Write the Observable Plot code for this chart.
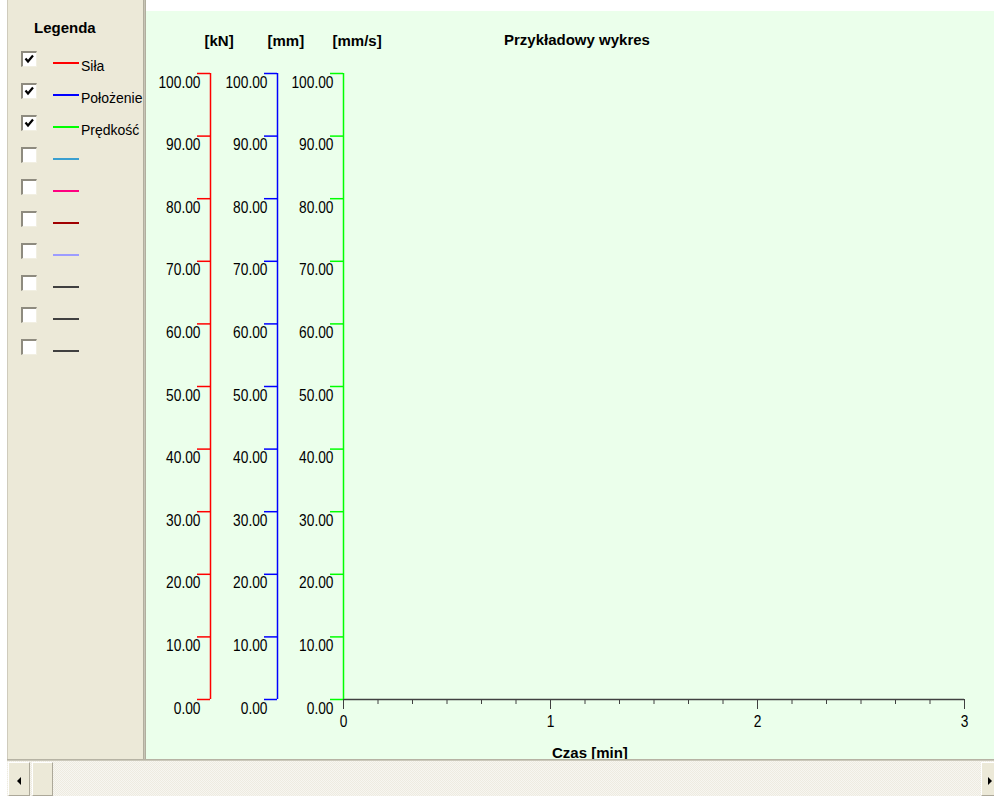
<!DOCTYPE html>
<html>
<head>
<meta charset="utf-8">
<script src="https://cdn.jsdelivr.net/npm/d3@7"></script>
<script src="https://cdn.jsdelivr.net/npm/@observablehq/plot@0.6"></script>
<style>
html, body { margin: 0; padding: 0; background: #ffffff; }
body { width: 994px; height: 796px; overflow: hidden; position: relative; font-family: "Liberation Sans", Arial, sans-serif; }
#panel { position: absolute; left: 7px; top: 0; width: 136px; height: 759px; background: #ECE9D8; border-left: 1px solid #CFCBBC; box-sizing: border-box; }
#divider { position: absolute; left: 143px; top: 0; width: 3px; height: 760px; background: linear-gradient(to right, #A5A292, #C8C5B6, #A5A292); }
#chart { position: absolute; left: 146px; top: 11px; width: 848px; height: 749px; overflow: hidden; background: #EBFFEB; }
#hline { position: absolute; left: 7px; top: 759px; width: 987px; height: 2px; background: linear-gradient(#ACA899, #D6D3C6); }
#scroll { position: absolute; left: 7px; top: 761px; width: 987px; height: 35px;
  background-color: #F4F2EA;
  background-image: repeating-conic-gradient(#F7F6F1 0% 25%, #EEEBE0 0% 50%);
  background-size: 2px 2px; }
.btn { position: absolute; top: 1px; height: 34px; background: #ECE9D8; box-sizing: border-box;
  border-top: 1px solid #FFFFFF; border-left: 1px solid #FFFFFF; border-right: 1px solid #ACA899; border-bottom: 1px solid #ACA899; }
.arrowL { position: absolute; width: 0; height: 0; border-top: 4px solid transparent; border-bottom: 4px solid transparent; border-right: 4px solid #000; }
.arrowR { position: absolute; width: 0; height: 0; border-top: 4px solid transparent; border-bottom: 4px solid transparent; border-left: 4px solid #000; }
.bold { position: absolute; font-weight: bold; font-size: 15px; line-height: 15px; color: #000; white-space: nowrap; }
.legrow { position: absolute; left: 0; width: 136px; height: 20px; }
.cb { position: absolute; left: 13px; width: 16px; height: 16px; box-sizing: border-box; background: #FFFFFF;
  border-top: 2px solid #8E8B7F; border-left: 2px solid #8E8B7F; border-right: 1px solid #F1EFE2; border-bottom: 1px solid #F1EFE2; }
.cb svg { position: absolute; left: 0; top: 0; }
.sw { position: absolute; left: 45px; width: 26px; height: 2px; }
.lt { position: absolute; left: 73px; font-size: 14px; line-height: 14px; color: #000; white-space: nowrap; }
</style>
</head>
<body>
<div id="panel"></div>
<div id="divider"></div>
<div id="chart"></div>
<div id="hline"></div>
<div id="scroll"></div>
<script>
// ---- data ----
const legendTitle = "Legenda";
const legendNames = ["Siła", "Położenie", "Prędkość", "", "", "", "", "", "", ""];
const legendColors = ["#FF0000", "#0000FF", "#00FF00", "#3A9FD0", "#FF0080", "#A00000", "#9C9CFF", "#404040", "#404040", "#404040"];
const legendChecked = [true, true, true, false, false, false, false, false, false, false];

const chartTitle = "Przykładowy wykres";
const yUnits = ["[kN]", "[mm]", "[mm/s]"];
const yColors = ["#FF0000", "#0000FF", "#00FF00"];
const yDomain = [0, 100];
const yTicks = [0, 10, 20, 30, 40, 50, 60, 70, 80, 90, 100];
const yTickLabels = ["0.00", "10.00", "20.00", "30.00", "40.00", "50.00", "60.00", "70.00", "80.00", "90.00", "100.00"];

const xLabel = "Czas [min]";
const xDomain = [0, 3];
const xTicks = [0, 1, 2, 3];
const xTickLabels = ["0", "1", "2", "3"];
const xMinorPerUnit = 6; // minor ticks every 10 s

// ---- layout ----
const W = 848, H = 749;
const axisDx = [-133, -66, 0];
const unitCenters = [219, 286, 357];   // page x
const tickFont = { fontFamily: "'Liberation Sans', Arial, sans-serif", fontSize: 16 };

const xMinor = d3.range(xDomain[0] * xMinorPerUnit, xDomain[1] * xMinorPerUnit + 1).map(i => i / xMinorPerUnit);

const marks = [
  Plot.ruleY([yDomain[0]], { stroke: "#404040", strokeWidth: 1.6 }),
  Plot.axisX(xMinor, { anchor: "bottom", tickSize: 5, stroke: "#404040", strokeWidth: 1, fill: "none", label: null }),
  Plot.axisX(xTicks, { anchor: "bottom", tickSize: 10, tickPadding: 6, stroke: "#404040", strokeWidth: 1, fill: "#000",
    tickFormat: d => xTickLabels[xTicks.indexOf(d)], label: null, ...tickFont })
];
yColors.forEach((c, i) => {
  marks.push(Plot.ruleX([xDomain[0]], { y1: yDomain[0], y2: yDomain[1], dx: axisDx[i], stroke: c, strokeWidth: 1.5 }));
  marks.push(Plot.axisY(yTicks, { anchor: "left", tickSize: 13, dx: axisDx[i], stroke: c, strokeWidth: 1.5, fill: "none", label: null }));
  marks.push(Plot.axisY(yTicks, { anchor: "left", tickSize: 0, tickPadding: 10, dx: axisDx[i], dy: 9, fill: "#000",
    tickFormat: d => yTickLabels[yTicks.indexOf(d)], label: null, ...tickFont }));
});

const plot = Plot.plot({
  width: W, height: H,
  marginLeft: 197, marginRight: 30, marginTop: 62, marginBottom: 61,
  x: { domain: xDomain },
  y: { domain: yDomain },
  style: { background: "#EBFFEB", fontFamily: "'Liberation Sans', Arial, sans-serif", overflow: "visible" },
  marks
});
// narrow the tick-label glyphs (the original uses a condensed bitmap font)
d3.select(plot).selectAll('g[aria-label="y-axis tick label"] text, g[aria-label="x-axis tick label"] text').each(function () {
  const t = this.getAttribute("transform") || "";
  this.setAttribute("transform", t + " scale(0.86,1)");
});
const chart = document.getElementById("chart");
chart.appendChild(plot);

function addText(parent, cls, txt, css) {
  const d = document.createElement("div");
  d.className = cls; d.textContent = txt;
  Object.assign(d.style, css);
  parent.appendChild(d);
  return d;
}
// titles (page coords -> chart coords)
const tt = addText(chart, "bold", chartTitle, { top: (32 - 11) + "px", left: "0px" });
tt.style.left = (577 - 146 - tt.offsetWidth / 2) + "px";
yUnits.forEach((u, i) => {
  const d = addText(chart, "bold", u, { top: (33 - 11) + "px", left: "0px" });
  d.style.left = (unitCenters[i] - 146 - d.offsetWidth / 2) + "px";
});
const xl = addText(chart, "bold", xLabel, { top: (745 - 11) + "px", left: "0px" });
xl.style.left = (590 - 146 - xl.offsetWidth / 2) + "px";

// legend panel
const panel = document.getElementById("panel");
addText(panel, "bold", legendTitle, { top: "20px", left: "26px" });
legendNames.forEach((name, i) => {
  const ly = 63 + 32 * i;
  const row = document.createElement("div");
  row.className = "legrow";
  row.style.top = (ly - 12) + "px";
  const cb = document.createElement("div");
  cb.className = "cb"; cb.style.top = "0px";
  if (legendChecked[i]) {
    cb.innerHTML = '<svg width="13" height="13"><polyline points="2.5,5.5 5,8.5 10,2.5" fill="none" stroke="#000" stroke-width="2.2"/></svg>';
  }
  row.appendChild(cb);
  const sw = document.createElement("div");
  sw.className = "sw";
  sw.style.top = "11px";
  sw.style.background = legendColors[i];
  row.appendChild(sw);
  if (name) addText(row, "lt", name, { top: "8px" });
  panel.appendChild(row);
});

// scrollbar
const scroll = document.getElementById("scroll");
function btn(left, width) {
  const b = document.createElement("div");
  b.className = "btn"; b.style.left = left + "px"; b.style.width = width + "px";
  scroll.appendChild(b); return b;
}
const bl = btn(1, 22);
const al = document.createElement("div"); al.className = "arrowL"; al.style.left = "8px"; al.style.top = "14px"; bl.appendChild(al);
btn(25, 21);
const br = btn(974, 16);
const ar = document.createElement("div"); ar.className = "arrowR"; ar.style.left = "6px"; ar.style.top = "14px"; br.appendChild(ar);
</script>
</body>
</html>
